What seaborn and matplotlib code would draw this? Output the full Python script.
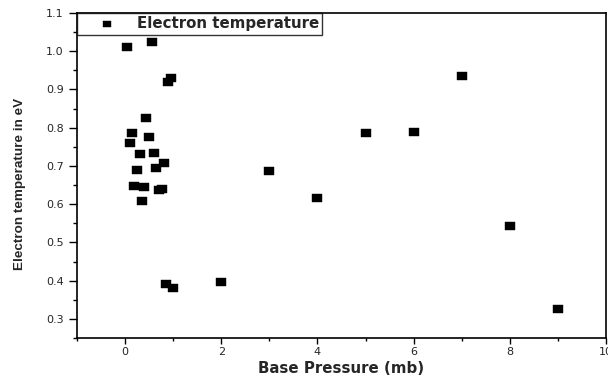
import matplotlib
matplotlib.use("Agg")
import matplotlib.pyplot as plt
import seaborn as sns
import pandas as pd
from matplotlib.ticker import MultipleLocator, FormatStrFormatter

pressure = [0.05, 0.55, 0.9, 0.95, 0.44, 0.15, 0.5, 0.1, 0.3, 0.6, 0.8, 0.24, 0.65,
            0.19, 0.4, 0.7, 0.76, 0.35, 0.85, 1.0, 2, 3, 4, 5, 6, 7, 8, 9]
temperature = [1.01, 1.025, 0.92, 0.929, 0.826, 0.787, 0.776, 0.759, 0.731, 0.733, 0.708, 0.690, 0.694,
               0.647, 0.646, 0.636, 0.640, 0.608, 0.390, 0.380, 0.396, 0.687, 0.616, 0.785, 0.789, 0.936, 0.543, 0.325]
series_name = "Electron temperature"
x_label = "Base Pressure (mb)"
y_label = "Electron temperature in eV"

df = pd.DataFrame({x_label: pressure, y_label: temperature})

sns.set_style("white")
plt.rcParams['font.family'] = ['DejaVu Sans']

fig = plt.figure(figsize=(6.08, 3.87), dpi=100)
ax = fig.add_axes([77/608, 1-338/387, (606-77)/608, (338-13)/387])

rect = [(-1, -0.78), (1, -0.78), (1, 0.78), (-1, 0.78), (-1, -0.78)]
sns.scatterplot(data=df, x=x_label, y=y_label, ax=ax,
                marker=rect, s=44, color="black", edgecolor="black", linewidth=0.3,
                label=series_name)

ax.set_xlim(-1, 10)
ax.set_ylim(0.25, 1.1)
ax.xaxis.set_major_locator(MultipleLocator(2))
ax.xaxis.set_minor_locator(MultipleLocator(1))
ax.yaxis.set_major_locator(MultipleLocator(0.1))
ax.yaxis.set_minor_locator(MultipleLocator(0.05))
ax.yaxis.set_major_formatter(FormatStrFormatter('%.1f'))
ax.tick_params(which='both', direction='out', width=1, color='black', labelsize=8,
               bottom=True, left=True, top=False, right=False)
ax.tick_params(axis='x', which='major', length=4.3, pad=2.5)
ax.tick_params(axis='x', which='minor', length=2.2)
ax.tick_params(axis='y', which='major', length=5.5, pad=4)
ax.tick_params(axis='y', which='minor', length=3)
for s in ax.spines.values():
    s.set_color('black')
    s.set_linewidth(1.2)

ax.set_xlabel(x_label, fontsize=10.8, fontweight='bold')
ax.set_ylabel(y_label, fontsize=9.7, fontweight='bold', family=['Liberation Sans', 'DejaVu Sans'])
ax.xaxis.set_label_coords(0.5, -0.072)
ax.yaxis.set_label_coords(-0.0964, 0.475)

leg = ax.legend(loc='upper left', borderaxespad=0.0, fancybox=False, frameon=True,
                prop={'weight': 'bold', 'size': 10.8}, handletextpad=0.15, borderpad=0.22,
                handlelength=3.6, markerscale=0.9)
leg.get_frame().set_edgecolor('black')
leg.get_frame().set_linewidth(1)

fig.savefig("out.png", dpi=100)
